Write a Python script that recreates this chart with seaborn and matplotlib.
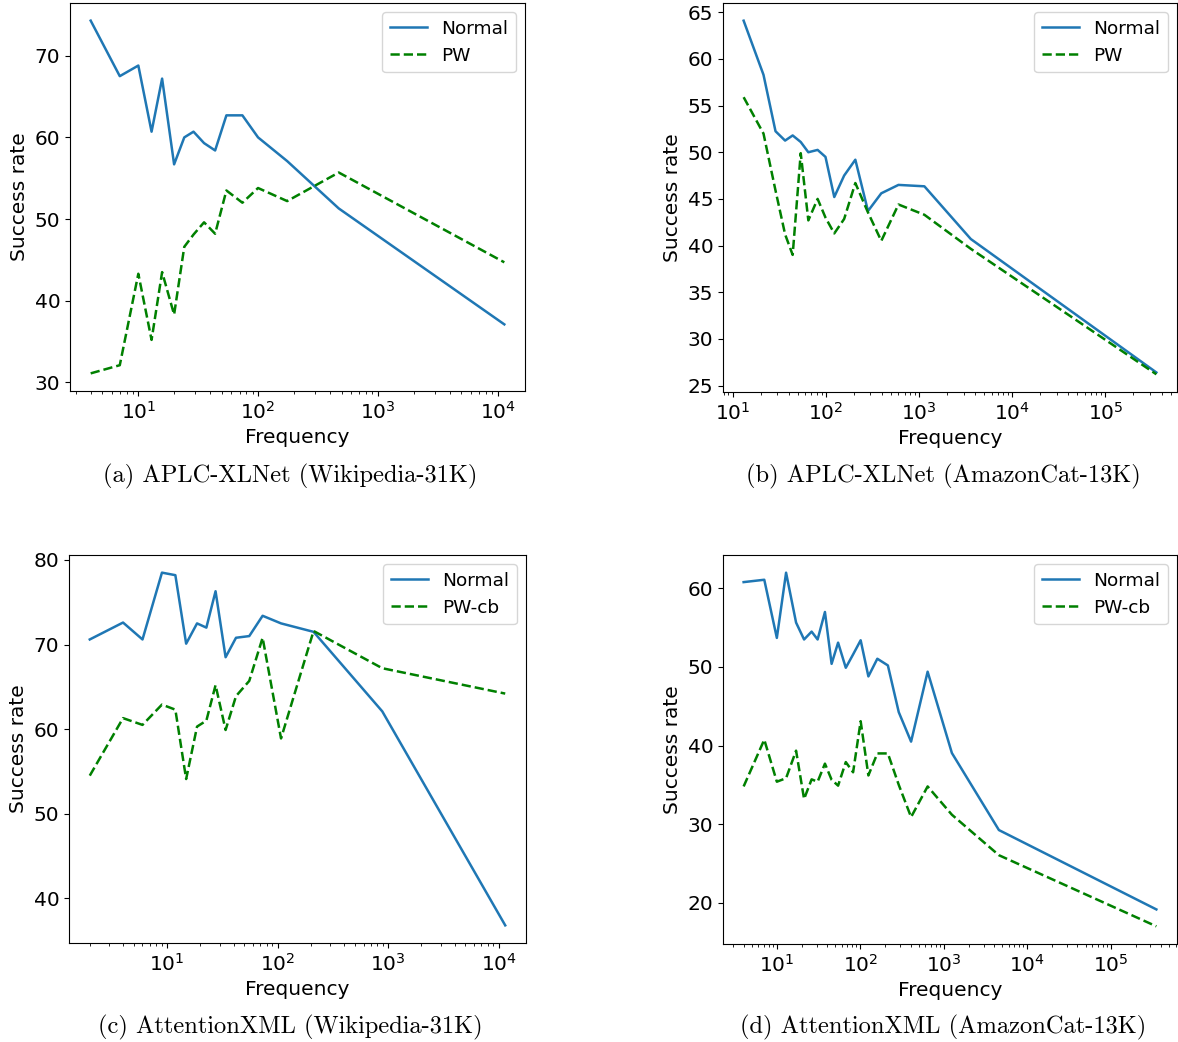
import matplotlib
matplotlib.use("Agg")
import matplotlib.pyplot as plt
import seaborn as sns

# === DATA ===
# (a) APLC-XLNet, Wikipedia-31K
freq_a = [4, 7, 10, 12.9, 15.8, 19.9, 24.2, 28.9, 35.4, 43.8, 54.4, 74, 100, 175, 472, 11400]
normal_a = [74.3, 67.5, 68.8, 60.7, 67.2, 56.7, 60.0, 60.7, 59.3, 58.4, 62.7, 62.7, 60.0, 57.1, 51.3, 37.1]
pw_a = [31.1, 32.1, 43.3, 35.2, 43.5, 38.3, 46.6, 48.1, 49.6, 48.2, 53.5, 52.0, 53.8, 52.2, 55.7, 44.7]

# (b) APLC-XLNet, AmazonCat-13K
freq_b = [13.1, 21.4, 28.8, 36.5, 44, 53.7, 64.8, 81.5, 99, 123, 157, 207, 283, 393, 601, 1140, 3590, 352000]
normal_b = [64.1, 58.3, 52.25, 51.25, 51.8, 51.1, 50.0, 50.25, 49.5, 45.2, 47.5, 49.2, 43.7, 45.6, 46.5, 46.35, 40.7, 26.4]
pw_b = [55.9, 52.0, 45.9, 41.2, 39.0, 49.9, 42.7, 45.0, 43.0, 41.3, 42.85, 46.7, 43.55, 40.5, 44.4, 43.3, 39.65, 26.2]

# (c) AttentionXML, Wikipedia-31K
freq_c = [2, 4, 6, 9, 11.9, 14.9, 18.7, 22.7, 27.5, 33.9, 42.1, 55.5, 73.3, 107.6, 212, 887, 11500]
normal_c = [70.6, 72.6, 70.6, 78.5, 78.2, 70.1, 72.5, 72.0, 76.3, 68.5, 70.8, 71.0, 73.4, 72.5, 71.5, 62.1, 36.8]
pwcb_c = [54.5, 61.3, 60.5, 62.9, 62.3, 54.1, 60.3, 61.0, 65.2, 59.9, 63.9, 65.7, 70.8, 58.9, 71.6, 67.2, 64.2]

# (d) AttentionXML, AmazonCat-13K
freq_d = [4, 7.07, 10, 12.9, 17, 21.2, 26.1, 30.8, 37.7, 45.3, 54.2, 67, 82, 101, 125, 160, 214,
          289, 406, 641, 1252, 4580, 353000]
normal_d = [60.8, 61.1, 53.7, 62.0, 55.65, 53.5, 54.5, 53.5, 57.0, 50.4, 53.1, 49.9, 51.6, 53.4, 48.8,
            51.05, 50.2, 44.25, 40.5, 49.4, 39.05, 29.25, 19.15]
pwcb_d = [34.8, 40.75, 35.4, 35.85, 39.35, 33.2, 35.7, 35.4, 37.7, 35.65, 34.9, 37.9, 36.6, 43.1, 36.2,
          39.0, 39.0, 35.0, 30.9, 34.8, 31.2, 26.05, 17.0]

captions = [
    "(a) APLC-XLNet (Wikipedia-31K)",
    "(b) APLC-XLNet (AmazonCat-13K)",
    "(c) AttentionXML (Wikipedia-31K)",
    "(d) AttentionXML (AmazonCat-13K)",
]

panels = [
    (freq_a, normal_a, pw_a, "PW"),
    (freq_b, normal_b, pw_b, "PW"),
    (freq_c, normal_c, pwcb_c, "PW-cb"),
    (freq_d, normal_d, pwcb_d, "PW-cb"),
]

# === FIGURE ===
W, H = 1178, 1042
fig = plt.figure(figsize=(W / 100, H / 100), dpi=100)
plt.rcParams["font.size"] = 14.5

# axes boxes in pixels: left, top, right, bottom
boxes = [
    (70, 3, 525, 391),
    (723, 3, 1177, 392),
    (69, 555, 526, 943),
    (723, 555, 1177, 944),
]
caption_xy = [(290, 476), (943, 476), (290, 1027), (943, 1027)]

for (freq, normal, other, other_name), box, cap, (cx, cy) in zip(panels, boxes, captions, caption_xy):
    l, t, r, b = box
    ax = fig.add_axes([l / W, 1 - b / H, (r - l) / W, (b - t) / H])
    sns.lineplot(x=freq, y=normal, ax=ax, color="#1f77b4", linewidth=1.8, label="Normal")
    sns.lineplot(x=freq, y=other, ax=ax, color="green", linewidth=1.8, linestyle="--", label=other_name)
    ax.set_xscale("log")
    ax.set_xlabel("Frequency", fontsize=14.5)
    ax.set_ylabel("Success rate", fontsize=14.5)
    ax.tick_params(labelsize=14.5)
    ax.legend(loc="upper right", fontsize=13.3)
    fig.text(cx / W, 1 - cy / H, cap, ha="center", va="center",
             fontsize=17.6, family="cmr10")

plt.savefig("out.png", dpi=100)
plt.close()
